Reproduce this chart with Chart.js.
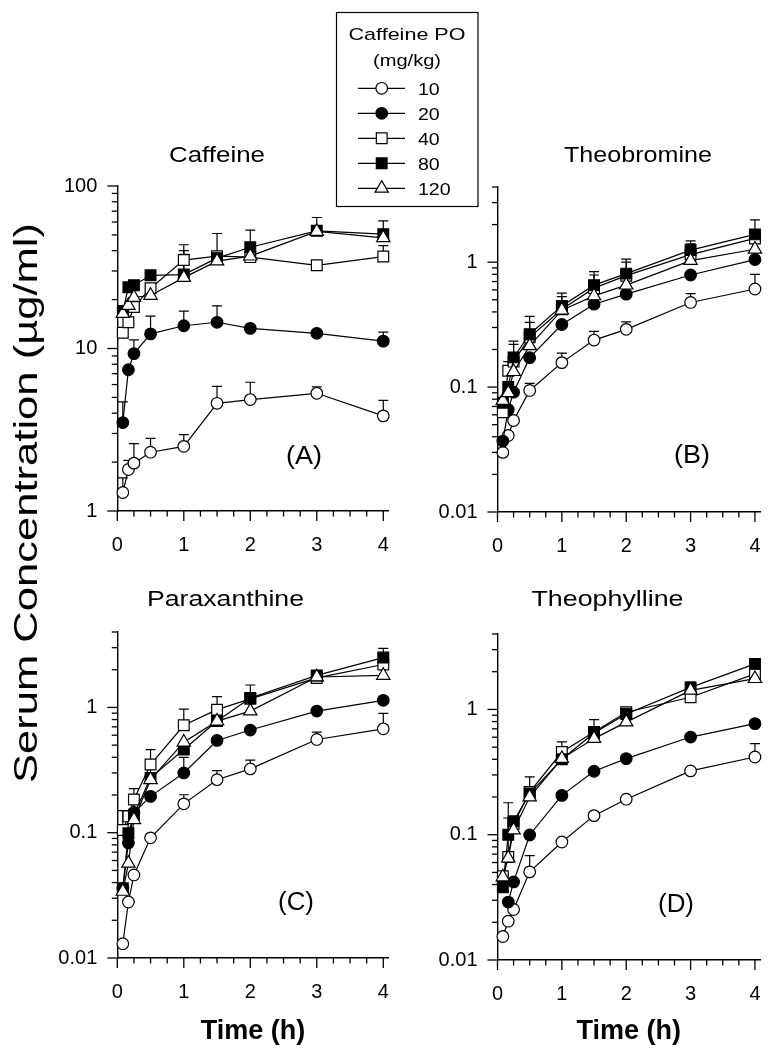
<!DOCTYPE html>
<html><head><meta charset="utf-8">
<script src="https://cdn.jsdelivr.net/npm/chart.js@4/dist/chart.umd.min.js"></script>
<style>
html,body{margin:0;padding:0;background:#fff;}
body{width:769px;height:1051px;position:relative;overflow:hidden;}
canvas{position:absolute;}
</style></head><body>
<canvas id="cA"></canvas><canvas id="cB"></canvas><canvas id="cC"></canvas><canvas id="cD"></canvas>
<script>
// ---------------- data ----------------
const times = [0.083, 0.167, 0.25, 0.5, 1, 1.5, 2, 3, 4];
const doseLabels = ['10', '20', '40', '80', '120'];
const legendTitle = ['Caffeine PO', '(mg/kg)'];
const panelTitles = ['Caffeine', 'Theobromine', 'Paraxanthine', 'Theophylline'];
const panelLetters = ['(A)', '(B)', '(C)', '(D)'];
const xTickValues = [0, 1, 2, 3, 4];
const yTicksCaffeine = [1, 10, 100];
const yTicksMetabolite = [0.01, 0.1, 1];
const yTitle = 'Serum Concentration (µg/ml)';
const xTitle = 'Time (h)';

// Caffeine (A)
const caf10  = [1.3, 1.8, 1.97, 2.3, 2.5, 4.6, 4.85, 5.3, 3.85];
const caf10Err = [1.6, 2.05, 2.6, 2.8, 2.95, 5.85, 6.2, 5.8, 4.8];
const caf20  = [3.5, 7.4, 9.3, 12.3, 13.8, 14.5, 13.3, 12.4, 11.1];
const caf20Err = [4.7, null, 11.3, 15.8, 17, 18.3, null, null, 12.6];
const caf40  = [12.5, 14.5, 18, 23.5, 35, 37, 36.5, 32.5, 36.8];
const caf40Err = [null, null, null, null, 43.5, null, null, null, 43];
const caf80  = [17, 23.8, 24.5, 28.2, 28.5, 36, 42, 53, 50.5];
const caf80Err = [null, null, null, null, 40, 51, 53.5, 64, 61];
const caf120 = [16.4, 18.4, 20.6, 21.2, 27.3, 34.5, 37, 52.5, 48];
const caf120Err = [null, null, null, null, 38, null, null, null, null];

// Theobromine (B)
const tb10  = [0.030, 0.041, 0.054, 0.094, 0.157, 0.238, 0.29, 0.476, 0.61];
const tb10Err = [null, null, null, 0.107, 0.187, 0.279, 0.333, 0.56, 0.80];
const tb20  = [0.037, 0.066, 0.091, 0.172, 0.317, 0.461, 0.555, 0.79, 1.05];
const tb20Err = [null, null, null, null, null, null, null, null, null];
const tb40  = [0.063, 0.135, 0.16, 0.25, 0.42, 0.62, 0.78, 1.15, 1.55];
const tb40Err = [null, 0.16, 0.22, 0.33, 0.53, 0.79, 1.0, 1.4, null];
const tb80  = [0.075, 0.10, 0.173, 0.265, 0.447, 0.655, 0.81, 1.25, 1.67];
const tb80Err = [null, null, 0.233, 0.368, 0.565, 0.84, 1.06, 1.48, 2.18];
const tb120 = [0.078, 0.09, 0.133, 0.214, 0.413, 0.537, 0.655, 1.03, 1.27];
const tb120Err = [null, null, null, null, null, null, null, null, null];

// Paraxanthine (C)
const px10  = [0.013, 0.028, 0.046, 0.091, 0.17, 0.265, 0.323, 0.555, 0.675];
const px10Err = [null, null, null, null, 0.201, 0.313, 0.379, 0.635, 0.895];
const px20  = [0.036, 0.083, 0.145, 0.195, 0.30, 0.545, 0.66, 0.935, 1.14];
const px20Err = [null, null, null, null, 0.4, null, null, null, null];
const px40  = [0.105, 0.135, 0.184, 0.35, 0.72, 0.96, 1.17, 1.72, 2.2];
const px40Err = [0.15, null, 0.225, 0.46, 0.97, 1.22, null, null, null];
const px80  = [0.036, 0.099, 0.139, 0.274, 0.461, 0.78, 1.19, 1.8, 2.5];
const px80Err = [null, null, 0.2, 0.35, null, null, 1.51, null, 2.96];
const px120 = [0.034, 0.057, 0.127, 0.265, 0.528, 0.777, 0.935, 1.75, 1.8];
const px120Err = [null, null, null, null, null, null, null, null, null];

// Theophylline (D)
const tp10  = [0.0154, 0.0204, 0.0253, 0.0505, 0.0875, 0.142, 0.192, 0.323, 0.417];
const tp10Err = [0.0165, null, null, 0.068, null, null, null, null, 0.533];
const tp20  = [null, 0.029, 0.042, 0.0995, 0.206, 0.321, 0.405, 0.602, 0.77];
const tp20Err = [null, null, null, null, null, null, null, null, null];
const tp40  = [0.0466, 0.0664, 0.122, 0.219, 0.457, 0.66, 0.95, 1.25, 1.92];
const tp40Err = [null, 0.136, null, null, 0.55, null, null, null, null];
const tp80  = [0.038, 0.10, 0.128, 0.213, 0.40, 0.648, 0.92, 1.5, 2.31];
const tp80Err = [null, 0.18, null, 0.29, null, 0.83, 1.04, 1.65, 2.53];
const tp120 = [0.046, 0.065, 0.109, 0.2, 0.405, 0.585, 0.792, 1.42, 1.76];
const tp120Err = [null, null, null, null, null, null, null, null, null];

// ---------------- styles ----------------
const FONT = "'Liberation Sans', Arial, Helvetica, sans-serif";
Chart.defaults.font.family = FONT;
Chart.defaults.color = '#000';
const markerStyles = [
  {pointStyle: 'circle', fill: '#ffffff', r: 5.8},
  {pointStyle: 'circle', fill: '#000000', r: 5.8},
  {pointStyle: 'rect', fill: '#ffffff', r: 7.6},
  {pointStyle: 'rect', fill: '#000000', r: 7.6},
  {pointStyle: 'triangle', fill: '#ffffff', r: 7.7}
];

function drawMarker(ctx, st, x, y) {
  ctx.beginPath();
  if (st.pointStyle === 'circle') ctx.arc(x, y, st.r, 0, Math.PI * 2);
  else if (st.pointStyle === 'rect') { const s = st.r * Math.SQRT1_2; ctx.rect(x - s, y - s, 2 * s, 2 * s); }
  else {
    for (let k = 0; k < 3; k++) {
      const a = k * 2 * Math.PI / 3;
      const px = x + Math.sin(a) * st.r, py = y - Math.cos(a) * st.r;
      if (k) ctx.lineTo(px, py); else ctx.moveTo(px, py);
    }
    ctx.closePath();
  }
  ctx.fillStyle = st.fill; ctx.fill();
  ctx.strokeStyle = '#000'; ctx.lineWidth = 1.2; ctx.stroke();
}

function drawText(ctx, t, x, y, size, width, opt) {
  opt = opt || {};
  ctx.save();
  ctx.font = (opt.bold ? 'bold ' : '') + size + 'px ' + FONT;
  const w = ctx.measureText(t).width;
  const sx = width ? width / w : 1;
  ctx.translate(x, y);
  if (opt.rotate) ctx.rotate(opt.rotate);
  ctx.scale(sx, 1);
  ctx.textAlign = opt.align || 'center';
  ctx.textBaseline = 'alphabetic';
  ctx.fillStyle = '#000';
  ctx.fillText(t, 0, 0);
  ctx.restore();
}

// page-coordinate decorations for each canvas
const deco = {
  cA: {ox: 0, oy: 0, legend: true, texts: [
    {t: panelTitles[0], x: 217, y: 162, size: 22, w: 96},
    {t: panelLetters[0], x: 304, y: 464, size: 25, w: 36}
  ]},
  cB: {ox: 420, oy: 0, texts: [
    {t: panelTitles[1], x: 638, y: 162, size: 22, w: 148},
    {t: panelLetters[1], x: 692, y: 463, size: 25, w: 36}
  ]},
  cC: {ox: 0, oy: 200, texts: [
    {t: panelTitles[2], x: 225.5, y: 606, size: 22, w: 157},
    {t: panelLetters[2], x: 296, y: 910, size: 25, w: 36},
    {t: yTitle, x: 37, y: 503, size: 33, w: 560, rotate: -Math.PI / 2}
  ]},
  cD: {ox: 420, oy: 560, texts: [
    {t: panelTitles[3], x: 607.5, y: 606, size: 22, w: 152},
    {t: panelLetters[3], x: 676, y: 912, size: 25, w: 36}
  ]}
};

const decoPlugin = {
  id: 'deco',
  beforeDatasetsDraw(chart) {
    const {ctx} = chart; const x = chart.scales.x, y = chart.scales.y;
    ctx.save(); ctx.strokeStyle = '#000'; ctx.lineWidth = 1.2;
    chart.data.datasets.forEach(ds => {
      (ds.errUp || []).forEach((e, i) => {
        const p = ds.data[i];
        if (e == null || p.y == null) return;
        const px = x.getPixelForValue(p.x), py = y.getPixelForValue(p.y), pe = y.getPixelForValue(e);
        ctx.beginPath(); ctx.moveTo(px, py); ctx.lineTo(px, pe);
        ctx.moveTo(px - 5, pe); ctx.lineTo(px + 5, pe); ctx.stroke();
      });
    });
    ctx.restore();
  },
  afterDraw(chart) {
    const {ctx, chartArea} = chart; const x = chart.scales.x, y = chart.scales.y;
    const d = deco[chart.canvas.id];
    ctx.save(); ctx.strokeStyle = '#000'; ctx.lineWidth = 1.3;
    // x ticks: major each hour, minor each quarter hour
    for (let k = 0; k <= 16; k++) {
      const v = k * 0.25; const px = x.getPixelForValue(v);
      const len = (k % 4 === 0) ? 10 : 5.5;
      ctx.beginPath(); ctx.moveTo(px, chartArea.bottom); ctx.lineTo(px, chartArea.bottom + len); ctx.stroke();
    }
    // y ticks: decades major, 2..9 minor
    const lo = Math.floor(Math.log10(y.min)), hi = Math.ceil(Math.log10(y.max));
    for (let e = lo; e <= hi; e++) {
      for (let m = 1; m <= 9; m++) {
        const v = m * Math.pow(10, e);
        if (v < y.min * 0.999 || v > y.max * 1.001) continue;
        const py = y.getPixelForValue(v);
        const len = m === 1 ? 10 : 5.5;
        ctx.beginPath(); ctx.moveTo(chartArea.left, py); ctx.lineTo(chartArea.left - len, py); ctx.stroke();
      }
    }
    ctx.restore();
    // texts
    d.texts.forEach(t => drawText(ctx, t.t, t.x - d.ox, t.y - d.oy, t.size, t.w, {rotate: t.rotate}));
    // legend
    if (d.legend) {
      ctx.save();
      ctx.strokeStyle = '#000'; ctx.lineWidth = 1.2;
      ctx.strokeRect(336.5 - d.ox, 12.5 - d.oy, 141.5, 194);
      ctx.restore();
      drawText(ctx, legendTitle[0], 407 - d.ox, 40 - d.oy, 17, 117);
      drawText(ctx, legendTitle[1], 407 - d.ox, 66 - d.oy, 17, 68);
      chart.data.datasets.forEach((ds, i) => {
        const ry = 88.3 + i * 25;
        ctx.save(); ctx.strokeStyle = '#000'; ctx.lineWidth = 1.2;
        ctx.beginPath(); ctx.moveTo(358 - d.ox, ry - d.oy); ctx.lineTo(405 - d.ox, ry - d.oy); ctx.stroke();
        ctx.restore();
        drawMarker(ctx, markerStyles[i], 381.7 - d.ox, ry - d.oy);
        ctx.save(); ctx.font = '17px ' + FONT;
        const w = ctx.measureText(ds.label).width; ctx.restore();
        drawText(ctx, ds.label, 418 - d.ox, ry + 6.2 - d.oy, 17, w * 1.15, {align: 'left'});
      });
    }
  }
};

function makeChart(id, geom, series, errs, yMin, yMax, yTickVals, showXTitle) {
  const cv = document.getElementById(id);
  cv.width = geom.w; cv.height = geom.h;
  cv.style.left = geom.left + 'px'; cv.style.top = geom.top + 'px';
  cv.style.width = geom.w + 'px'; cv.style.height = geom.h + 'px';
  const datasets = series.map((vals, i) => ({
    label: doseLabels[i],
    data: times.map((t, j) => ({x: t, y: vals[j]})),
    errUp: errs[i],
    order: series.length - 1 - i,
    borderColor: '#000', borderWidth: 1.2,
    pointStyle: markerStyles[i].pointStyle,
    pointRadius: markerStyles[i].r,
    pointBackgroundColor: markerStyles[i].fill,
    pointBorderColor: '#000', pointBorderWidth: 1.2,
    spanGaps: true, tension: 0, clip: false, fill: false
  }));
  return new Chart(cv, {
    type: 'line',
    data: {datasets},
    options: {
      responsive: false, animation: false, devicePixelRatio: 1,
      layout: {padding: {left: 0, top: geom.pt, right: geom.pr, bottom: geom.pb}},
      plugins: {legend: {display: false}, tooltip: {enabled: false}},
      scales: {
        x: {
          type: 'linear', min: 0, max: 4.08,
          grid: {display: false, drawTicks: false},
          border: {display: true, color: '#000', width: 1.4},
          ticks: {font: {size: 20}, color: '#000', padding: 22, maxRotation: 0, autoSkip: false, callback: v => String(v)},
          afterBuildTicks: s => { s.ticks = xTickValues.map(v => ({value: v})); },
          afterFit: s => { s.height = geom.hx; s.paddingLeft = 0; s.paddingRight = 0; },
          title: {display: showXTitle, text: xTitle, color: '#000', font: {size: 27, weight: 'bold'}, padding: {top: 0, bottom: 3}}
        },
        y: {
          type: 'logarithmic', min: yMin, max: yMax,
          grid: {display: false, drawTicks: false},
          border: {display: true, color: '#000', width: 1.4},
          ticks: {font: {size: 20}, color: '#000', padding: 20, autoSkip: false, callback: v => String(v)},
          afterBuildTicks: s => { s.ticks = yTickVals.map(v => ({value: v})); },
          afterFit: s => { s.width = geom.wy; s.paddingTop = 0; s.paddingBottom = 0; }
        }
      }
    },
    plugins: [decoPlugin]
  });
}

makeChart('cA', {left: 0, top: 0, w: 490, h: 560, wy: 117.3, pt: 186, pr: 101.4, hx: 45, pb: 4},
  [caf10, caf20, caf40, caf80, caf120], [caf10Err, caf20Err, caf40Err, caf80Err, caf120Err],
  1, 100, yTicksCaffeine, false);
makeChart('cB', {left: 420, top: 0, w: 349, h: 560, wy: 77.5, pt: 187, pr: 0.2, hx: 45, pb: 3},
  [tb10, tb20, tb40, tb80, tb120], [tb10Err, tb20Err, tb40Err, tb80Err, tb120Err],
  0.01, 4, yTicksMetabolite, false);
makeChart('cC', {left: 0, top: 200, w: 490, h: 851, wy: 117.3, pt: 432, pr: 101.4, hx: 93, pb: 0},
  [px10, px20, px40, px80, px120], [px10Err, px20Err, px40Err, px80Err, px120Err],
  0.01, 4, yTicksMetabolite, true);
makeChart('cD', {left: 420, top: 560, w: 349, h: 491, wy: 77.5, pt: 74, pr: 0.2, hx: 91, pb: 0},
  [tp10, tp20, tp40, tp80, tp120], [tp10Err, tp20Err, tp40Err, tp80Err, tp120Err],
  0.01, 4, yTicksMetabolite, true);
</script>
</body></html>
